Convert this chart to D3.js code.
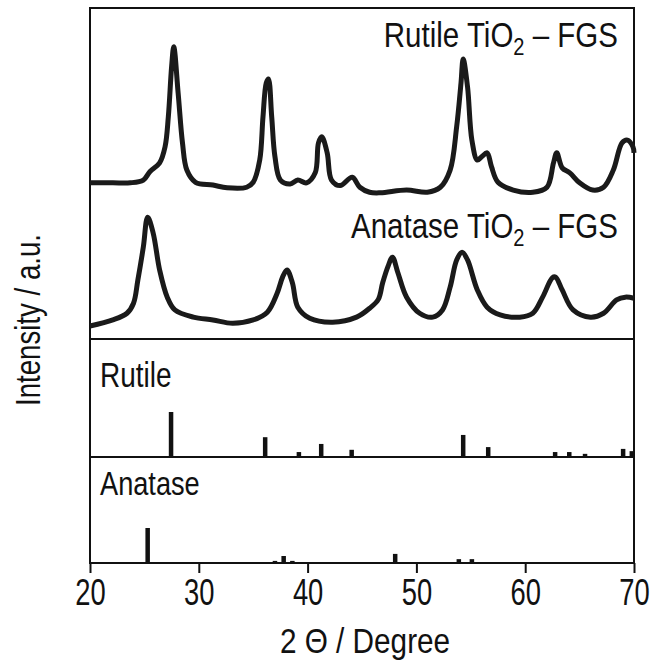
<!DOCTYPE html>
<html>
<head>
<meta charset="utf-8">
<script src="https://cdn.jsdelivr.net/npm/d3@7"></script>
<style>
  html, body { margin: 0; padding: 0; background: #fff; }
  svg text { font-family: "Liberation Sans", Arial, sans-serif; fill: #111; }
</style>
</head>
<body>
<div id="chart"></div>
<script>
// XRD patterns: TiO2-FGS hybrids + reference sticks

const xTicks = [20, 30, 40, 50, 60, 70];

// Rutile TiO2 - FGS measured pattern [2theta, intensity a.u.]
const rutileFgs = [
  [20.0, 3.5], [22.1, 3.5], [23.7, 3.5], [24.9, 4.0], [25.5, 5.5], [26.4, 7.1],
  [26.9, 10.0], [27.2, 15.4], [27.5, 24.4], [27.7, 28.0], [28.1, 19.7], [28.5, 10.7],
  [28.9, 5.8], [29.7, 3.6], [31.3, 3.1], [32.6, 2.6], [34.4, 2.7], [35.0, 3.6],
  [35.6, 7.6], [35.9, 15.4], [36.2, 21.5], [36.4, 22.2], [36.7, 15.4], [37.0, 8.2],
  [37.5, 4.0], [38.4, 3.3], [39.1, 4.0], [39.9, 3.5], [40.7, 5.3], [41.0, 10.7],
  [41.3, 11.8], [41.8, 8.9], [42.2, 4.0], [43.0, 3.0], [44.1, 4.5], [44.8, 2.7],
  [45.7, 1.8], [46.7, 1.7], [49.1, 2.2], [51.0, 1.8], [52.2, 2.7], [53.1, 5.8],
  [53.7, 13.6], [54.1, 21.5], [54.3, 25.8], [54.7, 20.8], [55.1, 11.2], [55.6, 7.6],
  [56.0, 8.2], [56.5, 8.9], [56.9, 6.4], [57.5, 3.6], [58.9, 2.2], [60.7, 1.8],
  [62.0, 2.7], [62.6, 7.1], [62.9, 8.9], [63.4, 6.2], [64.1, 5.3], [65.0, 3.5],
  [66.2, 2.2], [67.2, 2.7], [68.1, 5.8], [68.9, 10.7], [69.4, 11.2], [69.9, 10.0],
  [70.0, 8.9]
];

// Anatase TiO2 - FGS measured pattern [2theta, intensity a.u.]
const anataseFgs = [
  [20.0, 0.7], [22.1, 1.8], [23.4, 3.0], [24.0, 4.8], [24.4, 9.0], [24.9, 14.9],
  [25.3, 20.3], [25.8, 17.5], [26.4, 10.8], [27.1, 5.9], [27.8, 3.6], [29.5, 2.3],
  [31.3, 1.8], [33.1, 1.2], [35.0, 1.8], [36.3, 3.2], [37.2, 6.6], [37.7, 9.5],
  [38.1, 10.8], [38.6, 8.5], [39.1, 4.1], [40.2, 2.1], [42.3, 1.4], [44.5, 2.3],
  [45.7, 3.9], [46.5, 5.5], [46.9, 8.5], [47.4, 11.5], [47.8, 13.1], [48.3, 10.3],
  [49.1, 5.9], [50.3, 3.0], [51.5, 2.3], [52.4, 3.6], [53.1, 7.7], [53.7, 12.6],
  [54.2, 14.0], [54.7, 12.6], [55.6, 7.2], [56.5, 4.1], [57.7, 2.7], [59.5, 2.3],
  [60.7, 3.0], [61.6, 5.9], [62.5, 9.4], [62.8, 9.5], [63.4, 7.2], [64.4, 3.6],
  [66.0, 2.3], [67.2, 3.0], [68.4, 5.4], [69.2, 5.9], [70.0, 5.7]
];

// reference stick patterns [2theta, relative intensity %]
const rutileRef = [
  [27.45, 100], [36.1, 44], [39.2, 11], [41.25, 29], [44.05, 16], [54.3, 49],
  [56.6, 22], [62.75, 11], [64.05, 11], [65.5, 7], [69.0, 18], [69.8, 13]
];
const anataseRef = [
  [25.3, 100], [37.0, 6], [37.8, 20], [38.6, 6], [48.05, 26], [53.9, 11], [55.1, 11]
];

const rutileOffset = 65;
const anataseOffset = 42;

const width = 652, height = 666;
const margin = { top: 8, right: 18, bottom: 103, left: 90 };
const innerW = width - margin.left - margin.right;
const innerH = height - margin.top - margin.bottom;

const svg = d3.select("#chart").append("svg")
  .attr("width", width)
  .attr("height", height);

const g = svg.append("g")
  .attr("transform", `translate(${margin.left},${margin.top})`);

const x = d3.scaleLinear().domain([20, 70]).range([0, innerW]);

// whole plot height in a.u. (curves are stacked with offsets)
const y = d3.scaleLinear().domain([0, 100]).range([innerH, 0]);

// stick panels: each has its own scale
const panelSplit = 331;      // top of reference panels
const rutileBase = 449;
const yRutRef = d3.scaleLinear().domain([0, 100]).range([rutileBase, rutileBase - 45]);
const yAnaRef = d3.scaleLinear().domain([0, 100]).range([innerH, innerH - 35]);

// frame
g.append("rect")
  .attr("width", innerW).attr("height", innerH)
  .attr("fill", "none").attr("stroke", "#111").attr("stroke-width", 2);

g.append("line")
  .attr("x1", 0).attr("x2", innerW)
  .attr("y1", panelSplit).attr("y2", panelSplit)
  .attr("stroke", "#111").attr("stroke-width", 2);

g.append("line")
  .attr("x1", 0).attr("x2", innerW)
  .attr("y1", rutileBase).attr("y2", rutileBase)
  .attr("stroke", "#111").attr("stroke-width", 2);

// measured curves
const line = offset => d3.line()
  .x(d => x(d[0]))
  .y(d => y(d[1] + offset))
  .curve(d3.curveCatmullRom.alpha(0.5));

g.append("path").datum(rutileFgs)
  .attr("d", line(rutileOffset))
  .attr("fill", "none").attr("stroke", "#1a1a1a")
  .attr("stroke-width", 5).attr("stroke-linejoin", "round");

g.append("path").datum(anataseFgs)
  .attr("d", line(anataseOffset))
  .attr("fill", "none").attr("stroke", "#1a1a1a")
  .attr("stroke-width", 5).attr("stroke-linejoin", "round");

// sticks
const barW = 4.5;
g.append("g").selectAll("rect")
  .data(rutileRef)
  .join("rect")
  .attr("x", d => x(d[0]) - barW / 2)
  .attr("y", d => yRutRef(d[1]))
  .attr("width", barW)
  .attr("height", d => rutileBase - yRutRef(d[1]))
  .attr("fill", "#111");

g.append("g").selectAll("rect")
  .data(anataseRef)
  .join("rect")
  .attr("x", d => x(d[0]) - barW / 2)
  .attr("y", d => yAnaRef(d[1]))
  .attr("width", barW)
  .attr("height", d => innerH - yAnaRef(d[1]))
  .attr("fill", "#111");

// x axis (narrow lettering like the original figure)
const xAxis = d3.axisBottom(x).tickValues(xTicks).tickSize(10).tickPadding(6);
const gx = g.append("g")
  .attr("transform", `translate(0,${innerH})`)
  .call(xAxis);
gx.select(".domain").remove();
gx.selectAll("line").attr("stroke", "#111").attr("stroke-width", 2);
gx.selectAll("text")
  .style("font-size", "37px")
  .style("font-family", "Liberation Sans, Arial, sans-serif")
  .attr("fill", "#111")
  .attr("transform", "scale(0.74,1)");

// labels drawn condensed
function label(tx, ty, anchor, parts, size, sx, rot) {
  const holder = svg.append("g")
    .attr("transform", `translate(${tx},${ty})` + (rot ? ` rotate(${rot})` : "") + ` scale(${sx},1)`);
  const t = holder.append("text")
    .attr("text-anchor", anchor)
    .style("font-size", size + "px");
  parts.forEach(p => {
    const s = t.append("tspan").text(p.text);
    if (p.sub) s.attr("dy", 8).style("font-size", (size * 0.68) + "px");
    if (p.after) s.attr("dy", -8);
  });
  return t;
}

label(618, 47, "end", [
  { text: "Rutile TiO" }, { text: "2", sub: true }, { text: "  \u2013   FGS", after: true }
], 36, 0.82);

label(618, 238, "end", [
  { text: "Anatase TiO" }, { text: "2", sub: true }, { text: "  \u2013   FGS", after: true }
], 36, 0.82);

label(100, 387, "start", [{ text: "Rutile" }], 35, 0.8);
label(100, 495, "start", [{ text: "Anatase" }], 34, 0.8);

label(365, 653, "middle", [{ text: "2 \u0398 / Degree" }], 35, 0.85);

label(40, 320, "middle", [{ text: "Intensity / a.u." }], 35, 0.79, -90);
</script>
</body>
</html>
